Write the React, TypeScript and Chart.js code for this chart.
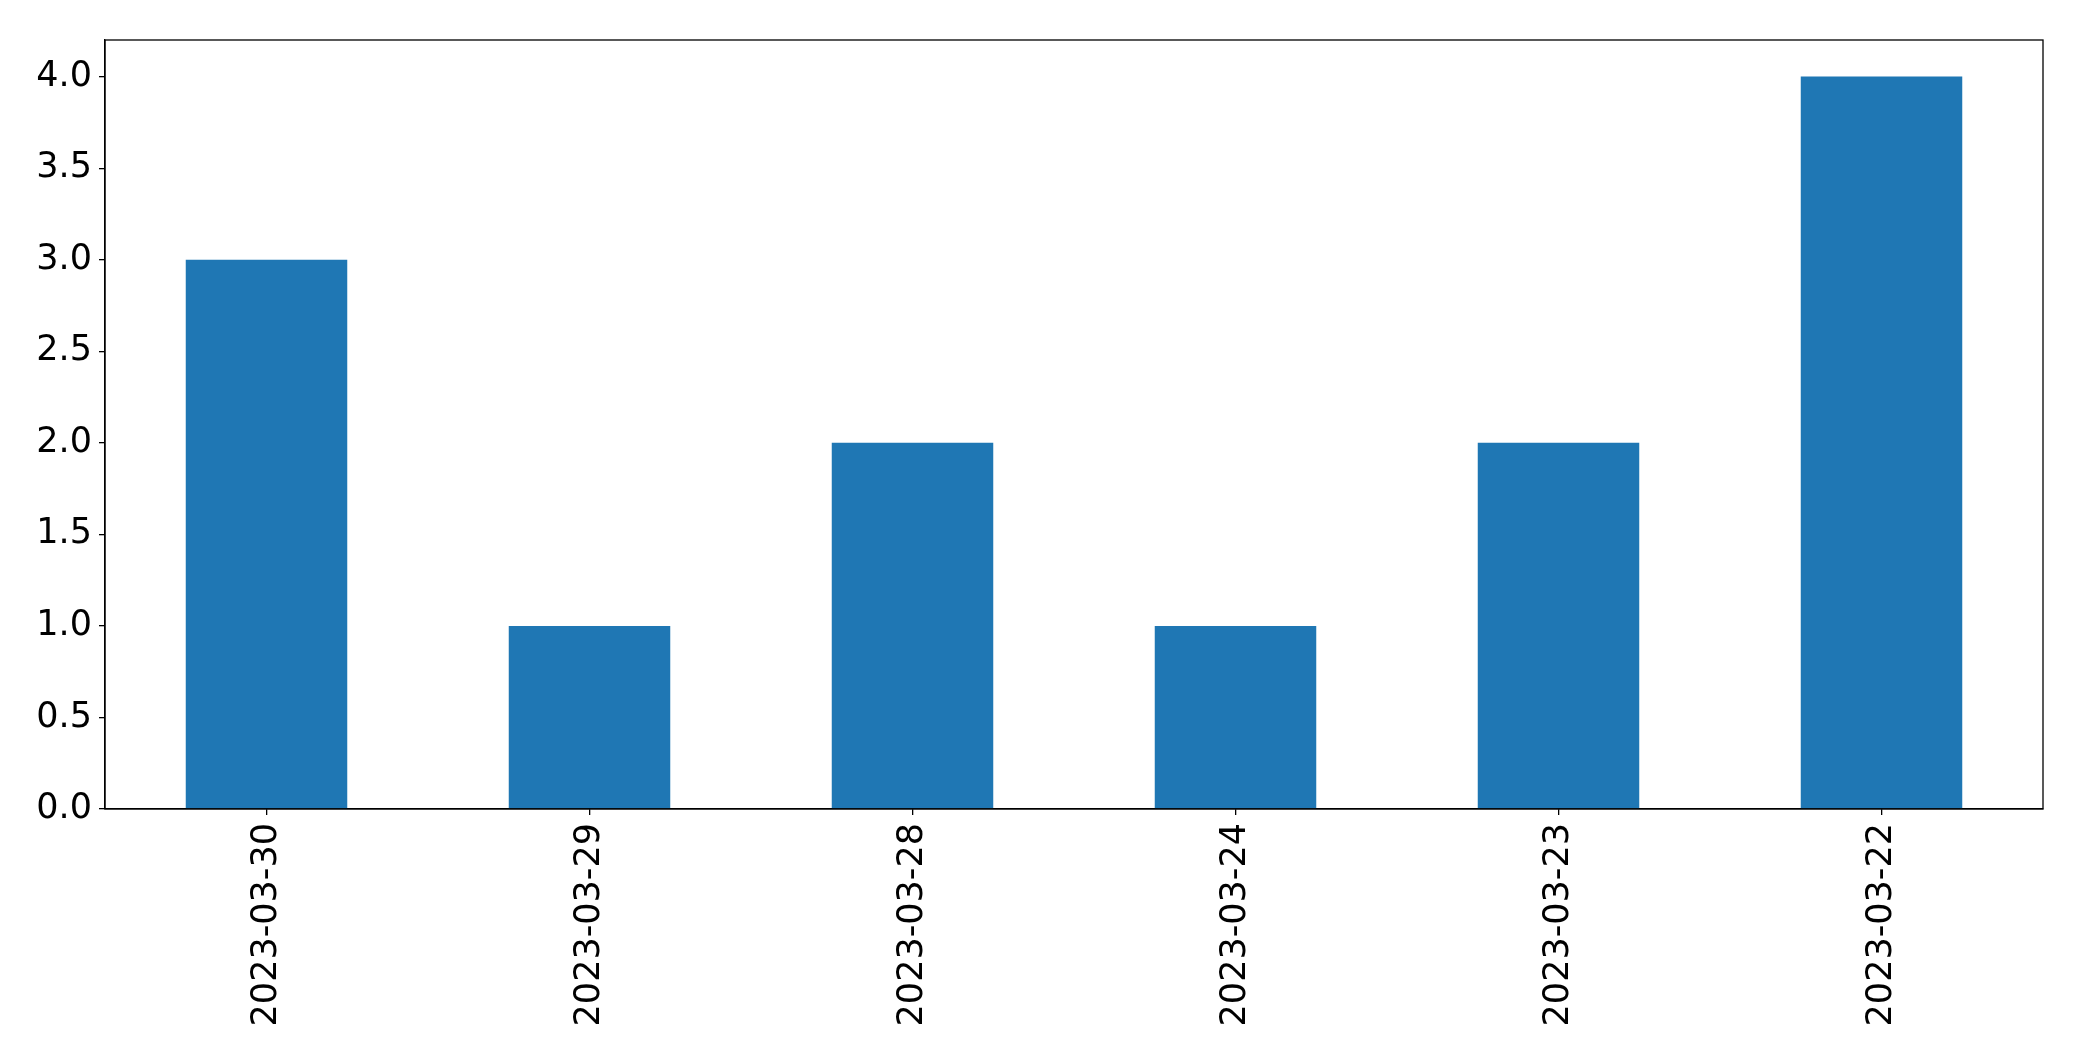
import React, { useEffect, useRef } from "react";
import { Chart, registerables } from "chart.js";

Chart.register(...registerables);

const categories: string[] = ["2023-03-30", "2023-03-29", "2023-03-28", "2023-03-24", "2023-03-23", "2023-03-22"];
const counts: number[] = [3, 1, 2, 1, 2, 4];
const yTicks: number[] = [0, 0.5, 1.0, 1.5, 2.0, 2.5, 3.0, 3.5, 4.0];
const yMin = 0;
const yMax = 4.2;

const W = 2082;
const H = 1061;
const FONT = "'DejaVu Sans', 'Liberation Sans', sans-serif";

const framePlugin = {
  id: "frame",
  afterDraw(chart: any) {
    const { ctx, chartArea } = chart;
    ctx.save();
    ctx.strokeStyle = "#000";
    ctx.lineWidth = 1.3;
    ctx.strokeRect(chartArea.left, chartArea.top, chartArea.right - chartArea.left, chartArea.bottom - chartArea.top);
    ctx.restore();
  },
};

export default function App() {
  const ref = useRef<HTMLCanvasElement | null>(null);
  useEffect(() => {
    document.body.style.margin = "0";
    const chart = new Chart(ref.current as HTMLCanvasElement, {
      type: "bar",
      data: {
        labels: categories,
        datasets: [
          {
            data: counts,
            backgroundColor: "#1f77b4",
            borderWidth: 0,
            barPercentage: 0.5,
            categoryPercentage: 1.0,
          },
        ],
      },
      options: {
        animation: false,
        responsive: false,
        devicePixelRatio: 1,
        layout: { padding: { top: 40, right: 39, left: 0, bottom: 0 } },
        plugins: { legend: { display: false }, tooltip: { enabled: false } },
        scales: {
          x: {
            offset: true,
            grid: { display: true, offset: false, drawOnChartArea: false, drawTicks: true, tickLength: 6, color: "#000", lineWidth: 1.3 },
            border: { display: true, color: "#000", width: 1.3 },
            ticks: {
              color: "#000",
              font: { family: FONT, size: 35 },
              minRotation: 90,
              maxRotation: 90,
              padding: 8,
              autoSkip: false,
            },
            afterFit: (s: any) => {
              s.height = H - 809;
            },
          },
          y: {
            min: yMin,
            max: yMax,
            grid: { display: true, drawOnChartArea: false, drawTicks: true, tickLength: 6, color: "#000", lineWidth: 1.3 },
            border: { display: true, color: "#000", width: 1.3 },
            ticks: {
              color: "#000",
              font: { family: FONT, size: 35 },
              padding: 7,
              callback: (v: any) => Number(v).toFixed(1),
            },
            afterBuildTicks: (s: any) => {
              s.ticks = yTicks.map((v) => ({ value: v }));
            },
            afterFit: (s: any) => {
              s.width = 105;
            },
          },
        },
      },
      plugins: [framePlugin],
    });
    return () => chart.destroy();
  }, []);
  return (
    <div style={{ position: "absolute", left: 0, top: 0, width: W, height: H, background: "#fff" }}>
      <canvas ref={ref} width={W} height={H} style={{ width: W, height: H, display: "block" }} />
    </div>
  );
}
